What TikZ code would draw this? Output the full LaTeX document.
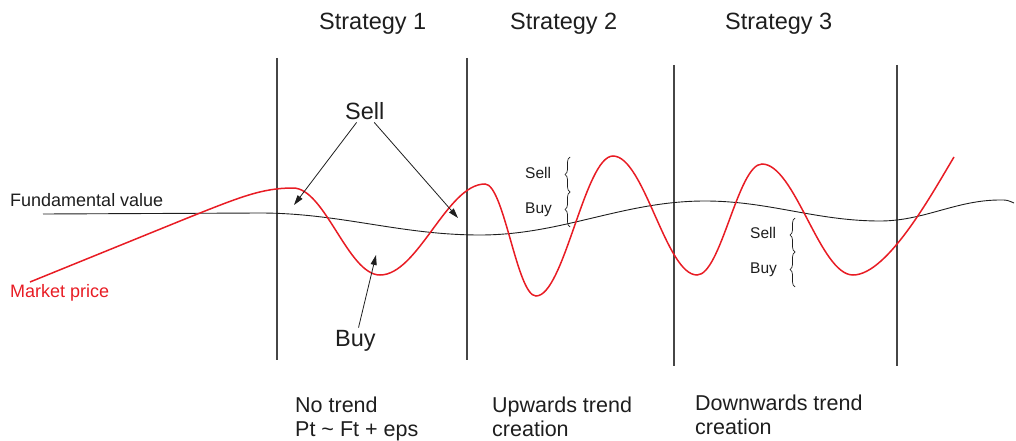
\documentclass[tikz,border=0pt]{standalone}
\usepackage{fontspec}
\setmainfont{Liberation Sans}
\usetikzlibrary{arrows.meta,decorations.pathreplacing}
\definecolor{ink}{RGB}{30,30,30}
\definecolor{mred}{RGB}{232,28,36}
\definecolor{vline}{RGB}{70,70,70}
\begin{document}
\begin{tikzpicture}[x=1pt,y=1pt,
  lbl/.style={inner sep=0pt,text=ink,anchor=base west},
  title/.style={lbl,font=\fontsize{23.5}{28}\selectfont},
  big/.style={lbl,font=\fontsize{23.5}{28}\selectfont},
  small/.style={lbl,font=\fontsize{15.5}{18}\selectfont},
  bottom/.style={lbl,font=\fontsize{21.5}{24}\selectfont},
  side/.style={lbl,font=\fontsize{18}{21}\selectfont},
  sep/.style={draw=vline,line width=1.2pt},
  fund/.style={draw=ink,line width=0.9pt},
  price/.style={draw=mred,line width=1.5pt},
  ptr/.style={draw=ink,line width=0.8pt,-{Triangle[length=10pt,width=6pt]}},
  brc/.style={draw=ink,line width=0.7pt,decorate,decoration={brace,amplitude=5pt}}
]
\useasboundingbox (0,0) rectangle (1016,-441);

% separators
\coordinate (s1t) at (277,-58);  \coordinate (s1b) at (277,-360);
\coordinate (s2t) at (467,-58);  \coordinate (s2b) at (467,-360);
\coordinate (s3t) at (674,-65);  \coordinate (s3b) at (674,-366);
\coordinate (s4t) at (897,-65);  \coordinate (s4b) at (897,-366);
\draw[sep] (s1t) -- (s1b);
\draw[sep] (s2t) -- (s2b);
\draw[sep] (s3t) -- (s3b);
\draw[sep] (s4t) -- (s4b);

% titles
\node[title] (st1) at (319,-30) {Strategy 1};
\node[title] (st2) at (510,-30) {Strategy 2};
\node[title] (st3) at (725,-30) {Strategy 3};

% fundamental value
\draw[fund] (43,-214) -- (260,-213)
  .. controls (340,-213) and (400,-235) .. (480,-235)
  .. controls (562,-235) and (623,-201) .. (705,-201)
  .. controls (769,-201) and (816,-221) .. (880,-221)
  .. controls (924,-221) and (956,-200) .. (1000,-200)
  .. controls (1007,-200) .. (1014,-203);

% market price
\draw[price] (30,-282) -- (185,-219)
  .. controls (240,-197) and (262,-188) .. (293,-188)
  .. controls (325,-188) and (348,-275) .. (380,-275)
  .. controls (418,-275) and (447,-184) .. (485,-184)
  .. controls (504,-184) and (517,-296) .. (536,-296)
  .. controls (564,-296) and (585,-156) .. (613,-156)
  .. controls (644,-156) and (666,-275) .. (697,-275)
  .. controls (721,-275) and (738,-164) .. (762,-164)
  .. controls (795,-164) and (820,-275) .. (853,-275)
  .. controls (888,-275) and (934,-190) .. (954,-157);

% side labels
\node[side] (fv) at (10,-206) {Fundamental value};
\node[side,text=mred] (mp) at (10,-297) {Market price};

% strategy 1 annotations
\node[big,inner sep=2pt] (sell) at (343,-120) {Sell};
\node[big,inner sep=2pt] (buy) at (333,-346) {Buy};
\coordinate (t1) at (294,-205);
\coordinate (t2) at (458,-218);
\coordinate (t3) at (376,-255);
\draw[ptr] (sell) -- (t1);
\draw[ptr] (sell) -- (t2);
\draw[ptr] (buy) -- (t3);

% strategy 2 braces
\node[small] (s2sell) at (525,-178) {Sell};
\node[small] (s2buy) at (525,-213) {Buy};
\coordinate (b2a) at (570,-227);
\coordinate (b2m) at (570,-192);
\coordinate (b2b) at (570,-157);
\draw[brc] (b2m) -- (b2b);
\draw[brc] (b2a) -- (b2m);

% strategy 3 braces
\node[small] (s3sell) at (750,-238) {Sell};
\node[small] (s3buy) at (750,-273) {Buy};
\coordinate (b3a) at (795,-287);
\coordinate (b3m) at (795,-252);
\coordinate (b3b) at (795,-218);
\draw[brc] (b3m) -- (b3b);
\draw[brc] (b3a) -- (b3m);

% bottom texts
\node[bottom] (n1a) at (295,-412) {No trend};
\node[bottom] (n1b) at (295,-436) {Pt \textasciitilde{} Ft + eps};
\node[bottom] (n2a) at (492,-412) {Upwards trend};
\node[bottom] (n2b) at (492,-436) {creation};
\node[bottom] (n3a) at (695,-410) {Downwards trend};
\node[bottom] (n3b) at (695,-434) {creation};
\end{tikzpicture}
\end{document}
